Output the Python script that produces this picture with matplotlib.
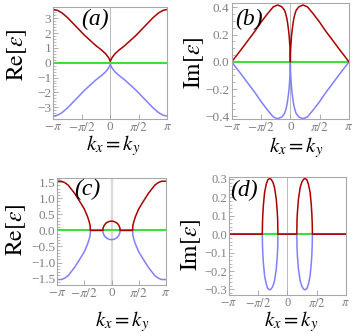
import numpy as np
import matplotlib
matplotlib.use("Agg")
import matplotlib.pyplot as plt
from matplotlib.ticker import AutoMinorLocator

plt.rcParams['font.family'] = 'serif'
plt.rcParams['font.serif'] = ['Liberation Serif', 'DejaVu Serif']
plt.rcParams['mathtext.fontset'] = 'stix'

# --- data (k in units of pi, only k >= 0; bands are symmetric in k) ---
# (a) Re[eps], upper band
ka = [0, 0.03, 0.08, 0.15, 0.25, 0.35, 0.45, 0.55, 0.65, 0.75, 0.85, 0.93, 1.0]
re_a = [0.1, 0.35, 0.6, 0.85, 1.15, 1.5, 1.85, 2.25, 2.65, 3.05, 3.38, 3.55, 3.6]

# (b) Im[eps], upper band
kb = [0, 0.002, 0.006, 0.012, 0.02, 0.03, 0.045, 0.06, 0.08, 0.1, 0.145, 0.215,
      0.29, 0.378, 0.494, 0.61, 0.727, 0.843, 0.92, 1.0]
im_b = [0, 0.06, 0.1, 0.14, 0.19, 0.23, 0.28, 0.32, 0.355, 0.38, 0.405, 0.418,
        0.405, 0.36, 0.295, 0.222, 0.155, 0.088, 0.045, 0]

# (c) Re[eps], upper band
kc = [0, 0.04, 0.08, 0.11, 0.13, 0.145, 0.155, 0.16, 0.39, 0.395, 0.41, 0.44,
      0.5, 0.56, 0.62, 0.68, 0.74, 0.8, 0.866, 0.927, 1.0]
re_c = [0.29, 0.28, 0.25, 0.21, 0.17, 0.12, 0.07, 0, 0, 0.16, 0.26, 0.42,
        0.66, 0.83, 0.99, 1.15, 1.28, 1.41, 1.49, 1.53, 1.53]

# (d) Im[eps], upper band
kd = [0, 0.162, 0.166, 0.173, 0.19, 0.22, 0.25, 0.28, 0.305, 0.335, 0.362,
      0.39, 0.41, 0.42, 0.426, 0.43, 1.0]
im_d = [0, 0, 0.08, 0.12, 0.19, 0.253, 0.284, 0.298, 0.302, 0.295, 0.27,
        0.226, 0.16, 0.11, 0.06, 0, 0]

panels = [
    ("(a)", ka, re_a, r'$\mathrm{Re}[\epsilon]$', (-3.8, 3.75), [-3, -2, -1, 0, 1, 2, 3], '%d'),
    ("(b)", kb, im_b, r'$\mathrm{Im}[\epsilon]$', (-0.42, 0.435), [-0.4, -0.2, 0, 0.2, 0.4], '%.1f'),
    ("(c)", kc, re_c, r'$\mathrm{Re}[\epsilon]$', (-1.7, 1.63), [-1.5, -1, -0.5, 0, 0.5, 1, 1.5], '%.1f'),
    ("(d)", kd, im_d, r'$\mathrm{Im}[\epsilon]$', (-0.33, 0.31), [-0.3, -0.2, -0.1, 0, 0.1, 0.2, 0.3], '%.1f'),
]

# axes rectangles in pixels (left, top, right, bottom) on the 353x336 canvas
W, H = 353, 336
boxes = [(53.3, 7.3, 167.3, 119), (231.7, 2.7, 349, 119),
         (57.3, 178, 165.7, 285), (229, 177, 345.7, 295)]
tag_pos = [(0.37, 0.89), (0.146, 0.86), (0.28, 0.89), (0.13, 0.89)]
ylab_pos = [(17, 55), (194, 63), (16, 230), (191, 245)]
xlab_pos = [(113, 146), (296, 148), (122, 322), (291, 322)]

RED = '#aa0000'
BLUE = '#8080ff'
GREEN = '#3ddf3d'
GRAY = '#808080'

fig = plt.figure(figsize=(W / 100, H / 100), dpi=100)

for i, (tag, k, y, ylab, ylim, yt, fmt) in enumerate(panels):
    l, t, r, b = boxes[i]
    ax = fig.add_axes([l / W, 1 - b / H, (r - l) / W, (b - t) / H])

    k = np.array(k)
    y = np.array(y)
    xs = np.concatenate([-k[::-1], k[1:]]) * np.pi
    ys = np.concatenate([y[::-1], y[1:]])

    # zero axis
    if i == 2:
        ax.axvline(0, color='#d8d8d8', lw=1.6, zorder=0)
    else:
        ax.axvline(0, color='#b0b0b0', lw=0.6, zorder=0)

    ax.plot([-np.pi, np.pi], [0, 0], color=GREEN, lw=1.5)
    ax.plot(xs, -ys, color=BLUE, lw=1.1)
    ax.plot(xs, ys, color=RED, lw=1.1)

    ax.set_xlim(-np.pi, np.pi)
    ax.set_ylim(*ylim)
    ax.set_xticks([-np.pi, -np.pi / 2, 0, np.pi / 2, np.pi])
    ax.set_xticklabels([r'$-\pi$', r'$-\pi/2$', '0', r'$\pi/2$', r'$\pi$'])
    ax.set_yticks(yt)
    if fmt == '%d':
        ax.set_yticklabels([str(v).replace('-', '\u2212') for v in yt])
    else:
        ax.set_yticklabels([('%.1f' % v).replace('-', '\u2212') for v in yt])
    ax.yaxis.set_minor_locator(AutoMinorLocator(5 if i != 1 else 4))

    lsize = 9 if i == 3 else 9.5
    ax.tick_params(which='both', direction='in', colors='#a0a0a0',
                   labelcolor=GRAY, labelsize=lsize, pad=1.5)
    ax.tick_params(which='major', length=3.5, width=0.6)
    ax.tick_params(which='minor', length=2, width=0.5)
    for s in ax.spines.values():
        s.set_color('#a8a8a8')
        s.set_linewidth(0.8)

    ax.text(tag_pos[i][0], tag_pos[i][1], tag, transform=ax.transAxes,
            fontsize=17, style='italic', ha='center', va='center')

    fig.text(ylab_pos[i][0] / W, 1 - ylab_pos[i][1] / H, ylab, rotation=90,
             fontsize=17, ha='center', va='center')
    fig.text(xlab_pos[i][0] / W, 1 - xlab_pos[i][1] / H, r'$k_x = k_y$',
             fontsize=15, ha='center', va='center')

fig.savefig('out.png', dpi=100)
